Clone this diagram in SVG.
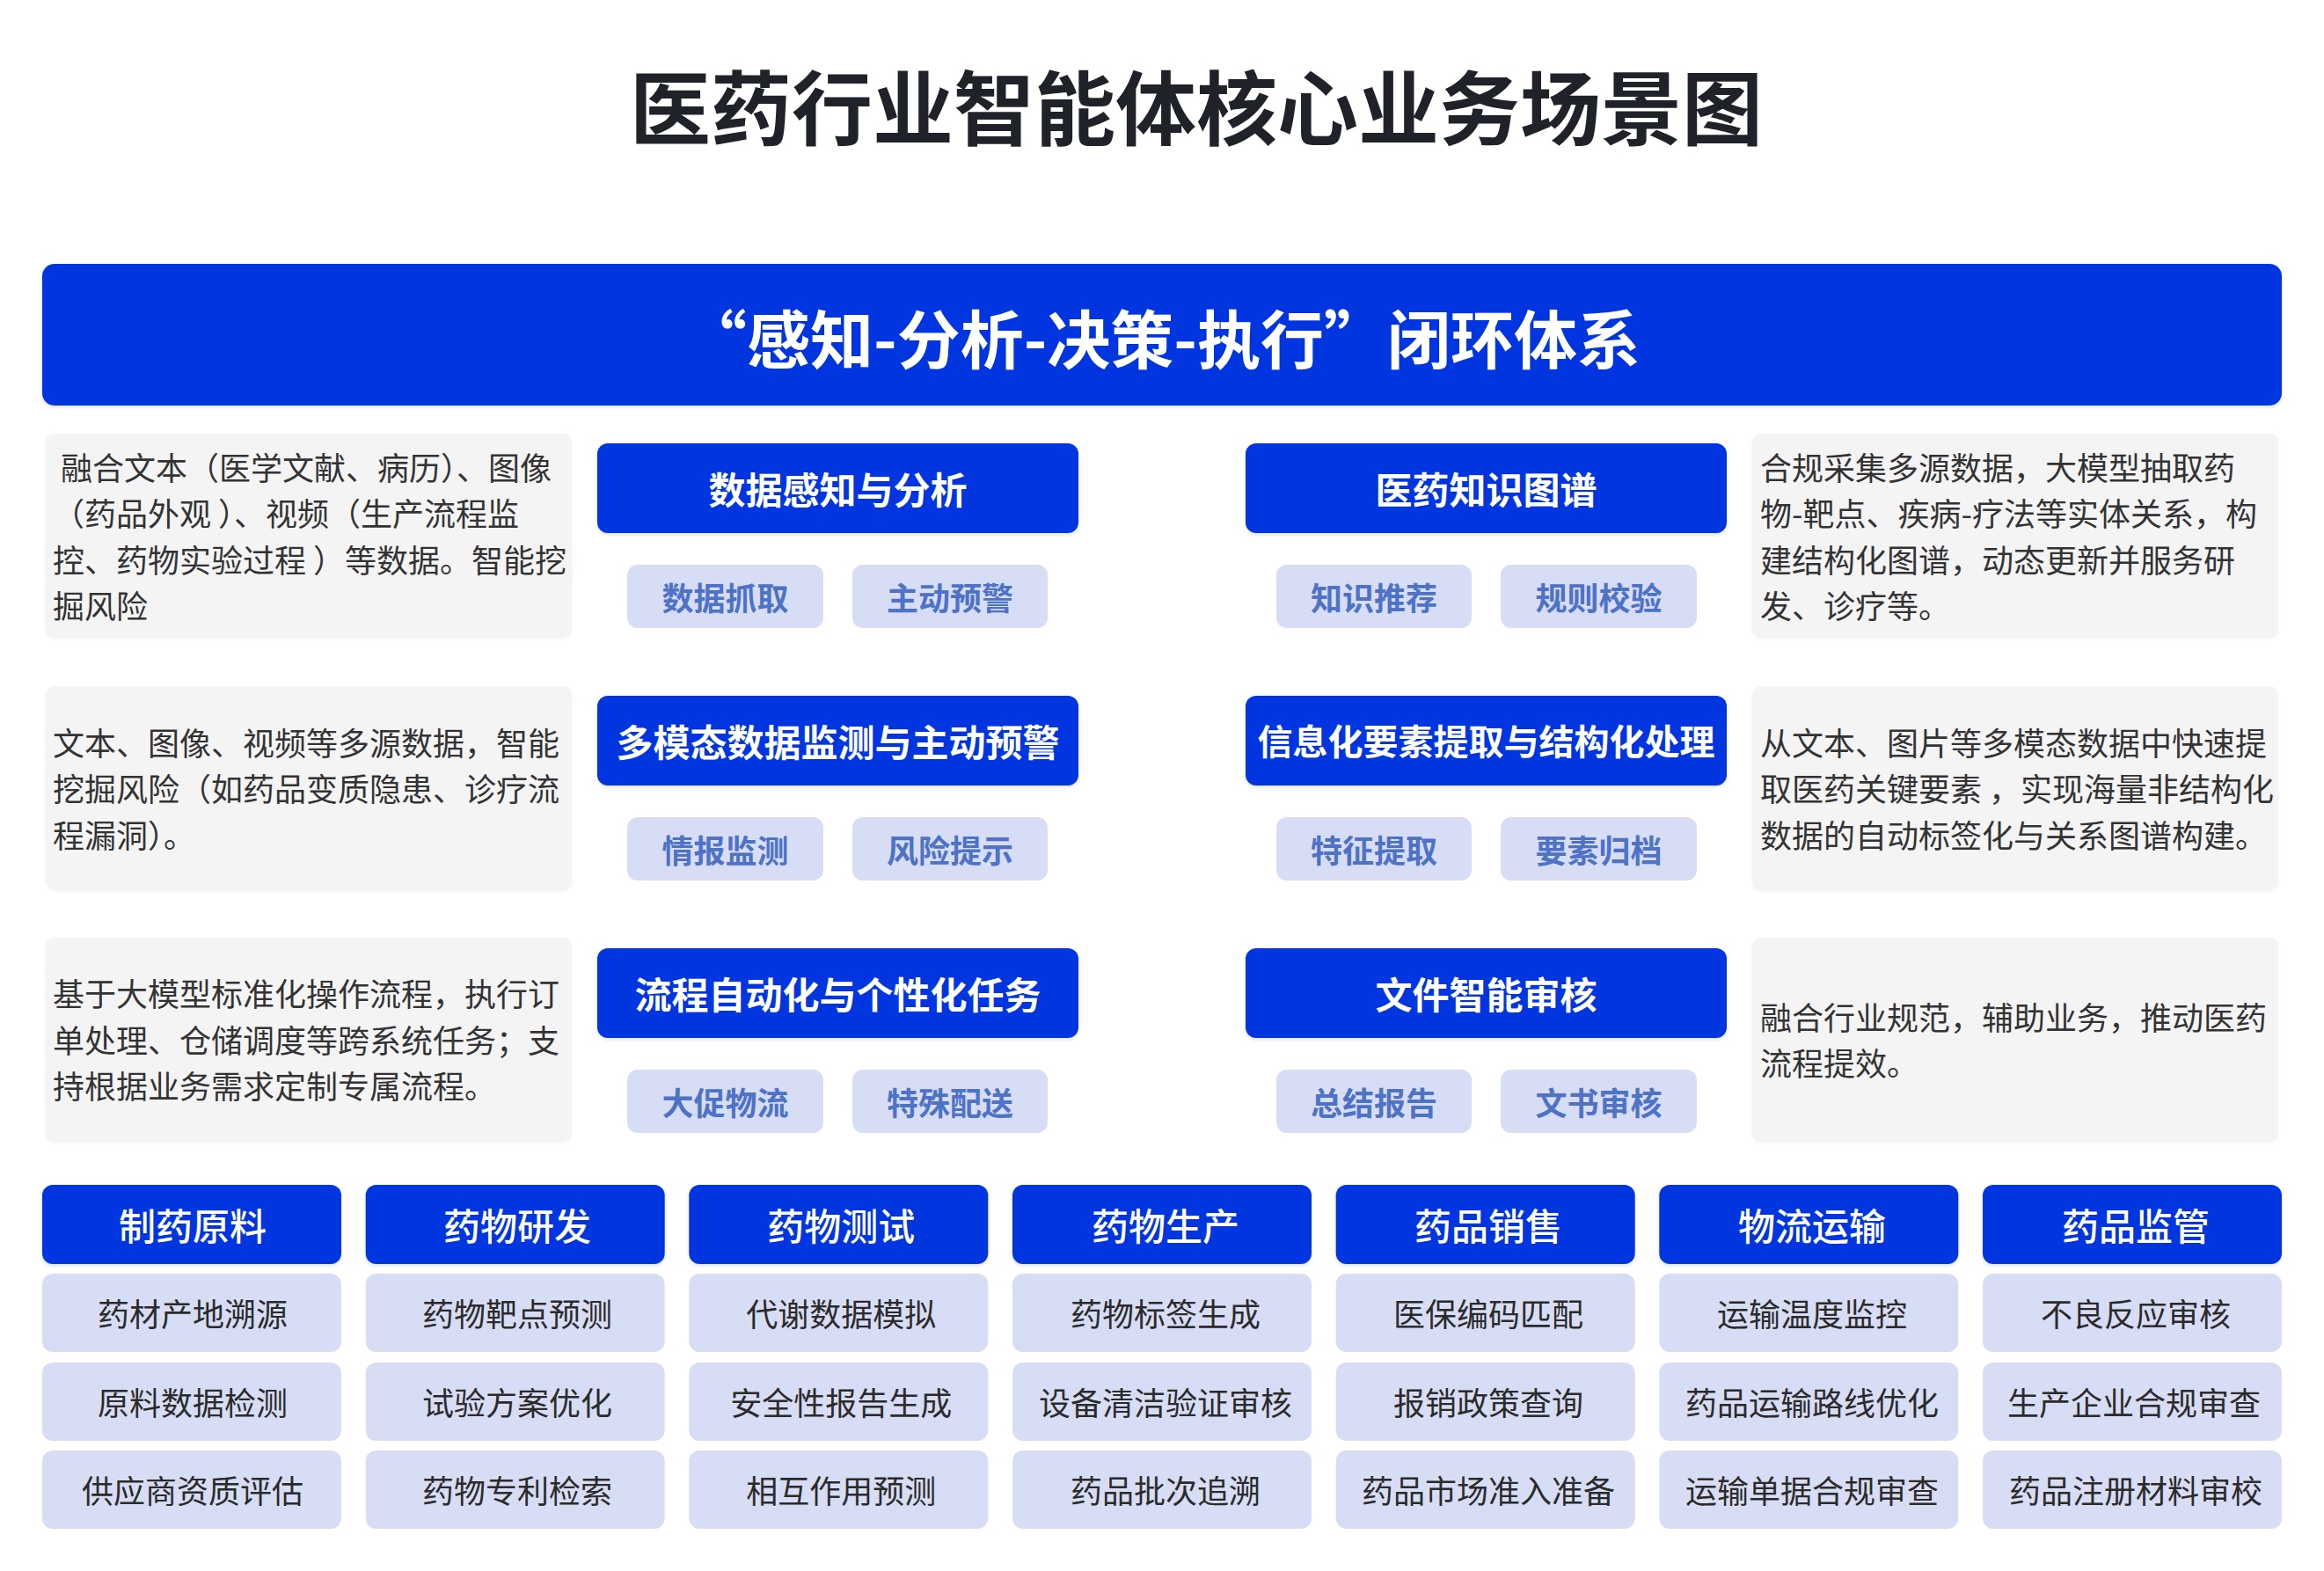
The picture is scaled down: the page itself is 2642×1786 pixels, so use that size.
<svg xmlns="http://www.w3.org/2000/svg" width="2642" height="1786" viewBox="0 0 2642 1786">
<defs>
<filter id="sh" x="-5%" y="-10%" width="110%" height="130%">
<feDropShadow dx="0" dy="2" stdDeviation="2" flood-color="#000" flood-opacity="0.12"/>
</filter>
<filter id="shl" x="-5%" y="-10%" width="110%" height="130%">
<feDropShadow dx="0" dy="1" stdDeviation="1.5" flood-color="#000" flood-opacity="0.06"/>
</filter>
<style>
text{font-family:"Noto Sans CJK SC","Noto Sans",sans-serif;dominant-baseline:central}
.title{font-size:92px;font-weight:700;fill:#1f2228;text-anchor:middle}
.bar{fill:#0436e0}
.bartxt{font-size:72px;font-weight:700;fill:#fff;text-anchor:middle}
.desc{fill:#f4f4f5}
.dtxt{font-size:36px;fill:#333;}
.hdr{fill:#0436e0}
.htxt{font-size:42px;font-weight:700;fill:#fff;text-anchor:middle}
.pill{fill:#d7ddf4}
.ptxt{font-size:36px;font-weight:700;fill:#4d72c6;text-anchor:middle}
.ghdr{fill:#0436e0}
.gtxt{font-size:42px;font-weight:500;fill:#fff;text-anchor:middle}
.item{fill:#d7ddf4}
.itxt{font-size:36px;fill:#2b2b2b;text-anchor:middle}
</style>
</defs>
<rect x="0" y="0" width="2642" height="1786" fill="#ffffff"/>

<g id="title"><text class="title" x="1360" y="117">医药行业智能体核心业务场景图</text></g>

<g id="loop-bar">
<rect class="bar" x="48" y="300" width="2546" height="161" rx="14" filter="url(#sh)"/>
<text class="bartxt" x="1321" y="381">“感知-分析-决策-执行”闭环体系</text>
</g>

<!-- Left description boxes -->
<g id="desc-l1">
<rect class="desc" x="52" y="493" width="598" height="232" rx="10" filter="url(#shl)"/>
<text class="dtxt" x="69" y="529.5">融合文本（医学文献、病历）、图像</text>
<text class="dtxt" x="60" y="582">（药品外观 ）、视频（生产流程监</text>
<text class="dtxt" x="60" y="634.5">控、药物实验过程 ）等数据。智能挖</text>
<text class="dtxt" x="60" y="687">掘风险</text>
</g>
<g id="desc-l2">
<rect class="desc" x="52" y="780" width="598" height="232" rx="10" filter="url(#shl)"/>
<text class="dtxt" x="60" y="842.5">文本、图像、视频等多源数据，智能</text>
<text class="dtxt" x="60" y="895">挖掘风险（如药品变质隐患、诊疗流</text>
<text class="dtxt" x="60" y="947.5">程漏洞）。</text>
</g>
<g id="desc-l3">
<rect class="desc" x="52" y="1066" width="598" height="232" rx="10" filter="url(#shl)"/>
<text class="dtxt" x="60" y="1128">基于大模型标准化操作流程，执行订</text>
<text class="dtxt" x="60" y="1180.5">单处理、仓储调度等跨系统任务；支</text>
<text class="dtxt" x="60" y="1233">持根据业务需求定制专属流程。</text>
</g>

<!-- Right description boxes -->
<g id="desc-r1">
<rect class="desc" x="1992" y="493" width="598" height="232" rx="10" filter="url(#shl)"/>
<text class="dtxt" x="2001" y="529.5">合规采集多源数据，大模型抽取药</text>
<text class="dtxt" x="2001" y="582">物-靶点、疾病-疗法等实体关系，构</text>
<text class="dtxt" x="2001" y="634.5">建结构化图谱，动态更新并服务研</text>
<text class="dtxt" x="2001" y="687">发、诊疗等。</text>
</g>
<g id="desc-r2">
<rect class="desc" x="1992" y="780" width="598" height="232" rx="10" filter="url(#shl)"/>
<text class="dtxt" x="2001" y="842.5">从文本、图片等多模态数据中快速提</text>
<text class="dtxt" x="2001" y="895">取医药关键要素 ，实现海量非结构化</text>
<text class="dtxt" x="2001" y="947.5">数据的自动标签化与关系图谱构建。</text>
</g>
<g id="desc-r3">
<rect class="desc" x="1992" y="1066" width="598" height="232" rx="10" filter="url(#shl)"/>
<text class="dtxt" x="2001" y="1154.5">融合行业规范，辅助业务，推动医药</text>
<text class="dtxt" x="2001" y="1207">流程提效。</text>
</g>

<!-- Left capability nodes -->
<g id="cap-data-perception">
<rect class="hdr" x="679" y="504" width="547" height="102" rx="12" filter="url(#sh)"/>
<text class="htxt" x="952.5" y="554">数据感知与分析</text>
<rect class="pill" x="713" y="642" width="223" height="72" rx="12"/>
<text class="ptxt" x="824.5" y="678">数据抓取</text>
<rect class="pill" x="969" y="642" width="222" height="72" rx="12"/>
<text class="ptxt" x="1080" y="678">主动预警</text>
</g>
<g id="cap-multimodal">
<rect class="hdr" x="679" y="791" width="547" height="102" rx="12" filter="url(#sh)"/>
<text class="htxt" x="952.5" y="841">多模态数据监测与主动预警</text>
<rect class="pill" x="713" y="929" width="223" height="72" rx="12"/>
<text class="ptxt" x="824.5" y="965">情报监测</text>
<rect class="pill" x="969" y="929" width="222" height="72" rx="12"/>
<text class="ptxt" x="1080" y="965">风险提示</text>
</g>
<g id="cap-automation">
<rect class="hdr" x="679" y="1078" width="547" height="102" rx="12" filter="url(#sh)"/>
<text class="htxt" x="952.5" y="1128">流程自动化与个性化任务</text>
<rect class="pill" x="713" y="1216" width="223" height="72" rx="12"/>
<text class="ptxt" x="824.5" y="1252">大促物流</text>
<rect class="pill" x="969" y="1216" width="222" height="72" rx="12"/>
<text class="ptxt" x="1080" y="1252">特殊配送</text>
</g>

<!-- Right capability nodes -->
<g id="cap-knowledge-graph">
<rect class="hdr" x="1416" y="504" width="547" height="102" rx="12" filter="url(#sh)"/>
<text class="htxt" x="1689.5" y="554">医药知识图谱</text>
<rect class="pill" x="1451" y="642" width="222" height="72" rx="12"/>
<text class="ptxt" x="1562" y="678">知识推荐</text>
<rect class="pill" x="1706" y="642" width="223" height="72" rx="12"/>
<text class="ptxt" x="1817.5" y="678">规则校验</text>
</g>
<g id="cap-extraction">
<rect class="hdr" x="1416" y="791" width="547" height="102" rx="12" filter="url(#sh)"/>
<text class="htxt" x="1689.5" y="841" style="font-size:40px">信息化要素提取与结构化处理</text>
<rect class="pill" x="1451" y="929" width="222" height="72" rx="12"/>
<text class="ptxt" x="1562" y="965">特征提取</text>
<rect class="pill" x="1706" y="929" width="223" height="72" rx="12"/>
<text class="ptxt" x="1817.5" y="965">要素归档</text>
</g>
<g id="cap-doc-review">
<rect class="hdr" x="1416" y="1078" width="547" height="102" rx="12" filter="url(#sh)"/>
<text class="htxt" x="1689.5" y="1128">文件智能审核</text>
<rect class="pill" x="1451" y="1216" width="222" height="72" rx="12"/>
<text class="ptxt" x="1562" y="1252">总结报告</text>
<rect class="pill" x="1706" y="1216" width="223" height="72" rx="12"/>
<text class="ptxt" x="1817.5" y="1252">文书审核</text>
</g>

<!-- Bottom scenario grid -->
<g id="col-raw-materials">
<rect class="ghdr" x="48" y="1347" width="340" height="90" rx="12" filter="url(#sh)"/>
<text class="gtxt" x="219" y="1391">制药原料</text>
<rect class="item" x="48" y="1448" width="340" height="89" rx="12"/>
<text class="itxt" x="219" y="1492">药材产地溯源</text>
<rect class="item" x="48" y="1549" width="340" height="89" rx="12"/>
<text class="itxt" x="219" y="1593">原料数据检测</text>
<rect class="item" x="48" y="1649" width="340" height="89" rx="12"/>
<text class="itxt" x="219" y="1693">供应商资质评估</text>
</g>
<g id="col-rnd">
<rect class="ghdr" x="415.7" y="1347" width="340" height="90" rx="12" filter="url(#sh)"/>
<text class="gtxt" x="588" y="1391">药物研发</text>
<rect class="item" x="415.7" y="1448" width="340" height="89" rx="12"/>
<text class="itxt" x="588" y="1492">药物靶点预测</text>
<rect class="item" x="415.7" y="1549" width="340" height="89" rx="12"/>
<text class="itxt" x="588" y="1593">试验方案优化</text>
<rect class="item" x="415.7" y="1649" width="340" height="89" rx="12"/>
<text class="itxt" x="588" y="1693">药物专利检索</text>
</g>
<g id="col-testing">
<rect class="ghdr" x="783.3" y="1347" width="340" height="90" rx="12" filter="url(#sh)"/>
<text class="gtxt" x="956.3" y="1391">药物测试</text>
<rect class="item" x="783.3" y="1448" width="340" height="89" rx="12"/>
<text class="itxt" x="956.3" y="1492">代谢数据模拟</text>
<rect class="item" x="783.3" y="1549" width="340" height="89" rx="12"/>
<text class="itxt" x="956.3" y="1593">安全性报告生成</text>
<rect class="item" x="783.3" y="1649" width="340" height="89" rx="12"/>
<text class="itxt" x="956.3" y="1693">相互作用预测</text>
</g>
<g id="col-production">
<rect class="ghdr" x="1151" y="1347" width="340" height="90" rx="12" filter="url(#sh)"/>
<text class="gtxt" x="1325" y="1391">药物生产</text>
<rect class="item" x="1151" y="1448" width="340" height="89" rx="12"/>
<text class="itxt" x="1325" y="1492">药物标签生成</text>
<rect class="item" x="1151" y="1549" width="340" height="89" rx="12"/>
<text class="itxt" x="1325" y="1593">设备清洁验证审核</text>
<rect class="item" x="1151" y="1649" width="340" height="89" rx="12"/>
<text class="itxt" x="1325" y="1693">药品批次追溯</text>
</g>
<g id="col-sales">
<rect class="ghdr" x="1518.7" y="1347" width="340" height="90" rx="12" filter="url(#sh)"/>
<text class="gtxt" x="1692" y="1391">药品销售</text>
<rect class="item" x="1518.7" y="1448" width="340" height="89" rx="12"/>
<text class="itxt" x="1692" y="1492">医保编码匹配</text>
<rect class="item" x="1518.7" y="1549" width="340" height="89" rx="12"/>
<text class="itxt" x="1692" y="1593">报销政策查询</text>
<rect class="item" x="1518.7" y="1649" width="340" height="89" rx="12"/>
<text class="itxt" x="1692" y="1693">药品市场准入准备</text>
</g>
<g id="col-logistics">
<rect class="ghdr" x="1886.3" y="1347" width="340" height="90" rx="12" filter="url(#sh)"/>
<text class="gtxt" x="2060" y="1391">物流运输</text>
<rect class="item" x="1886.3" y="1448" width="340" height="89" rx="12"/>
<text class="itxt" x="2060" y="1492">运输温度监控</text>
<rect class="item" x="1886.3" y="1549" width="340" height="89" rx="12"/>
<text class="itxt" x="2060" y="1593">药品运输路线优化</text>
<rect class="item" x="1886.3" y="1649" width="340" height="89" rx="12"/>
<text class="itxt" x="2060" y="1693">运输单据合规审查</text>
</g>
<g id="col-regulation">
<rect class="ghdr" x="2254" y="1347" width="340" height="90" rx="12" filter="url(#sh)"/>
<text class="gtxt" x="2428" y="1391">药品监管</text>
<rect class="item" x="2254" y="1448" width="340" height="89" rx="12"/>
<text class="itxt" x="2428" y="1492">不良反应审核</text>
<rect class="item" x="2254" y="1549" width="340" height="89" rx="12"/>
<text class="itxt" x="2426" y="1593">生产企业合规审查</text>
<rect class="item" x="2254" y="1649" width="340" height="89" rx="12"/>
<text class="itxt" x="2428" y="1693">药品注册材料审校</text>
</g>

<g id="connectors"></g>
</svg>
